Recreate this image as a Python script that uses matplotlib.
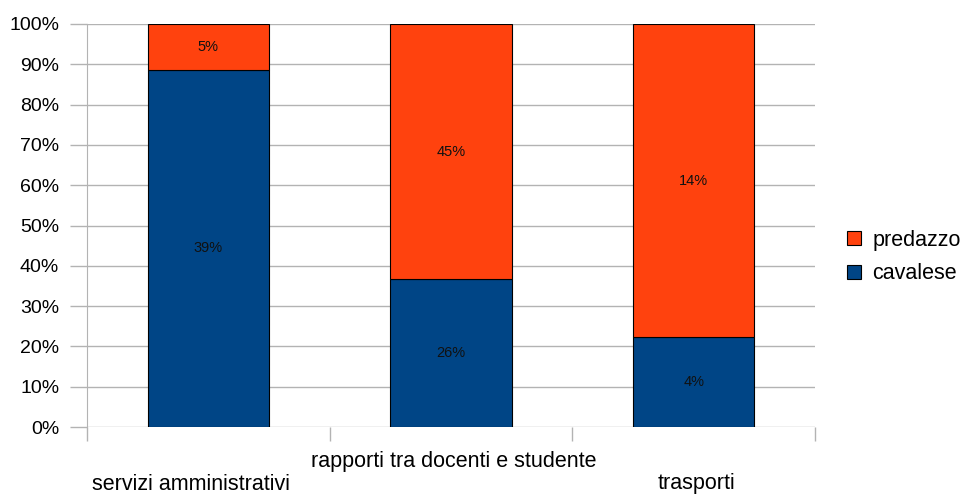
import matplotlib.pyplot as plt
import matplotlib.transforms as mtransforms
import numpy as np

plt.rcParams['font.family'] = ['Liberation Sans', 'DejaVu Sans']

categories = ["servizi amministrativi", "rapporti tra docenti e studente", "trasporti"]
cavalese = [39, 26, 4]
predazzo = [5, 45, 14]

col_cav = "#004586"
col_pre = "#FF420E"

cav = np.array(cavalese, dtype=float)
pre = np.array(predazzo, dtype=float)
tot = cav + pre
cav_pct = cav / tot * 100
pre_pct = pre / tot * 100

fig = plt.figure(figsize=(9.65, 4.96), dpi=100)
ax = fig.add_axes([87/965, 1-427/496, (815-87)/965, (427-24)/496])

x = np.arange(len(categories))
w = 0.5
ax.bar(x, cav_pct, w, color=col_cav, edgecolor="black", linewidth=0.8, label="cavalese", zorder=3)
ax.bar(x, pre_pct, w, bottom=cav_pct, color=col_pre, edgecolor="black", linewidth=0.8, label="predazzo", zorder=3)

for i in range(len(categories)):
    ax.text(x[i], cav_pct[i]/2, "%d%%" % cavalese[i], ha="center", va="center", fontsize=10.5, color="#111111", zorder=4)
    ax.text(x[i], cav_pct[i] + pre_pct[i]/2, "%d%%" % predazzo[i], ha="center", va="center", fontsize=10.5, color="#111111", zorder=4)

ax.set_xlim(-0.5, 2.5)
ax.set_ylim(0, 100)
ax.set_yticks(np.arange(0, 101, 10))
ax.set_yticklabels(["%d%%" % v for v in range(0, 101, 10)], fontsize=14)
ax.yaxis.grid(True, color="#b3b3b3", linewidth=1, zorder=0)
ax.tick_params(axis="y", length=12, color="#b3b3b3", width=1, pad=8)
ax.set_xticks([-0.5, 0.5, 1.5, 2.5])
ax.set_xticklabels([])
ax.tick_params(axis="x", length=10, color="#b3b3b3", width=1)
for s in ["top", "right", "bottom"]:
    ax.spines[s].set_visible(False)
ax.spines["left"].set_color("#b3b3b3")

# staggered category labels, placed like the original
trans = mtransforms.blended_transform_factory(ax.transData, fig.transFigure)
offs = [1-484/496, 1-461/496, 1-484/496]
shift = [-17, 3, 3]
for i, c in enumerate(categories):
    t = ax.text(x[i], offs[i], c, transform=trans, ha="center", va="center", fontsize=15.5)
    t.set_transform(trans + mtransforms.ScaledTranslation(shift[i]/100, 0, fig.dpi_scale_trans))

handles, labels = ax.get_legend_handles_labels()
fig.legend(handles[::-1], labels[::-1], loc="center left", bbox_to_anchor=(828/965, 1-257/496),
           frameon=False, fontsize=15.5, handlelength=0.65, handleheight=0.65, handletextpad=0.5,
           labelspacing=0.6)

plt.savefig("out.png", dpi=100)
